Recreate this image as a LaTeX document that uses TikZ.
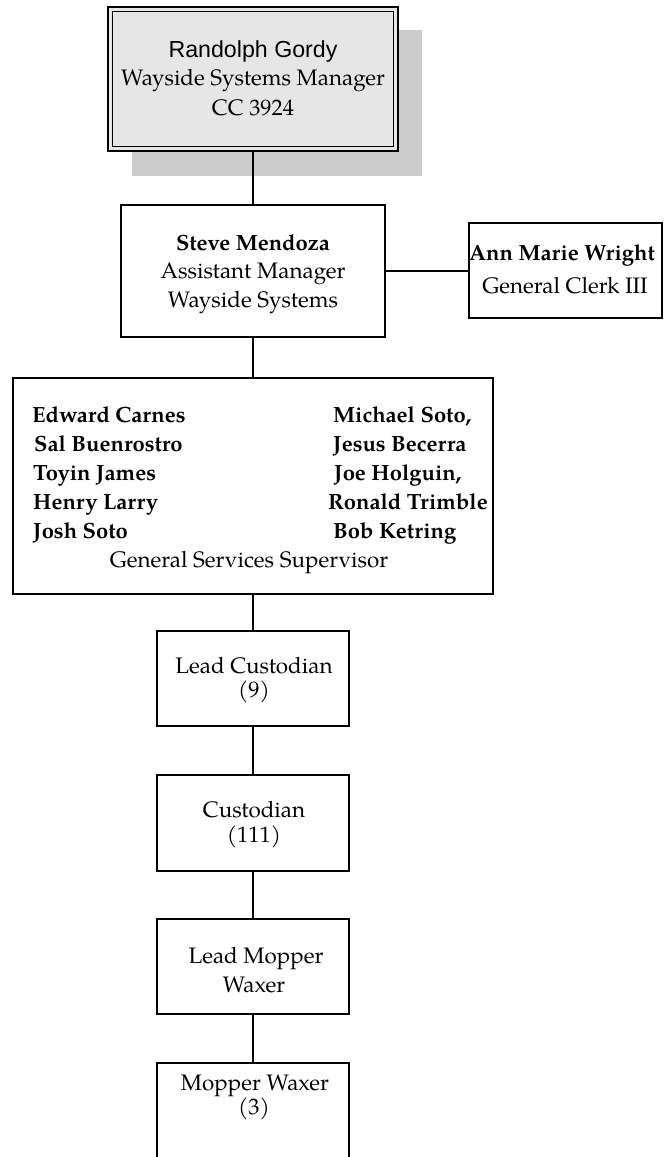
\documentclass[tikz,border=0pt]{standalone}
\usepackage{fontspec}
\setmainfont{TeX Gyre Pagella}
\newfontfamily\arialfont{Liberation Sans}
\definecolor{boxgray}{HTML}{E6E6E6}
\definecolor{shadowgray}{HTML}{CCCCCC}
\begin{document}
\begin{tikzpicture}[x=1pt,y=-1pt,
  box/.style={draw=black, line width=1.8pt, inner sep=0pt, fill=white},
  txt/.style={anchor=base, inner sep=0pt, font=\fontsize{22.4}{26}\selectfont},
  nm/.style={anchor=base, inner sep=0pt, font=\fontsize{22}{26}\selectfont\bfseries},
  nml/.style={nm, anchor=base west},
  link/.style={line width=1.8pt}]
\useasboundingbox (0,0) rectangle (664,1157);
% shadow and top box
\node[fill=shadowgray, inner sep=0pt, minimum width=290pt, minimum height=146pt] (shadow) at (277,103) {};
\node[box, fill=boxgray, minimum width=290pt, minimum height=144pt] (top) at (253,79) {};
\draw[line width=1pt] ([shift={(5,5)}]top.north west) rectangle ([shift={(-5,-5)}]top.south east);
\node[txt, font=\arialfont\fontsize{23.2}{26}\selectfont] (t1) at (253,57) {Randolph Gordy};
\node[txt] (t2) at (253,85) {Wayside Systems Manager};
\node[txt] (t3) at (253,115) {CC 3924};
% Steve
\node[box, minimum width=264pt, minimum height=132pt] (steve) at (253,271) {};
\node[nm] (s1) at (253,250) {Steve Mendoza};
\node[txt] (s2) at (253,278) {Assistant Manager};
\node[txt] (s3) at (253,307) {Wayside Systems};
% Ann
\node[box, minimum width=193pt, minimum height=95pt] (ann) at (565.5,270.5) {};
\node[nm] (a1) at (562,260) {Ann Marie Wright};
\node[txt] (a2) at (565,293) {General Clerk III};
% big box
\node[box, minimum width=480pt, minimum height=216pt] (big) at (253,486) {};
\node[nml] (l1) at (32,422) {Edward Carnes};
\node[nml] (l2) at (34,451) {Sal Buenrostro};
\node[nml] (l3) at (33,480) {Toyin James};
\node[nml] (l4) at (33,509) {Henry Larry};
\node[nml] (l5) at (33,538) {Josh Soto};
\node[nml] (r1) at (333,422) {Michael Soto,};
\node[nml] (r2) at (333,451) {Jesus Becerra};
\node[nml] (r3) at (334,480) {Joe Holguin,};
\node[nml] (r4) at (328,509) {Ronald Trimble};
\node[nml] (r5) at (333,538) {Bob Ketring};
\node[txt] (g1) at (249,567) {General Services Supervisor};
% chain
\node[box, minimum width=192pt, minimum height=95pt] (lc) at (253,678.5) {};
\node[txt] (lc1) at (254,673) {Lead Custodian};
\node[txt] (lc2) at (254,697) {(9)};
\node[box, minimum width=192pt, minimum height=96pt] (cu) at (253,823) {};
\node[txt] (cu1) at (254,817) {Custodian};
\node[txt] (cu2) at (254,842) {(111)};
\node[box, minimum width=192pt, minimum height=95pt] (lmw) at (253,966.5) {};
\node[txt] (lmw1) at (256,963) {Lead Mopper};
\node[txt] (lmw2) at (254,992) {Waxer};
\node[box, minimum width=192pt, minimum height=97pt] (mw) at (253,1111.5) {};
\node[txt] (mw1) at (255,1090) {Mopper Waxer};
\node[txt] (mw2) at (254,1114) {(3)};
% connectors
\draw[link] (top.south) -- (steve.north);
\draw[link] (steve.east) -- (steve.east -| ann.west);
\draw[link] (steve.south) -- (big.north);
\draw[link] (big.south) -- (lc.north);
\draw[link] (lc.south) -- (cu.north);
\draw[link] (cu.south) -- (lmw.north);
\draw[link] (lmw.south) -- (mw.north);
\end{tikzpicture}
\end{document}
